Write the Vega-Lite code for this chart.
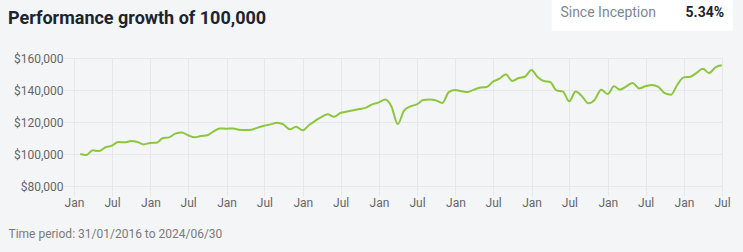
{
  "$schema": "https://vega.github.io/schema/vega-lite/v6.json",
  "autosize": "none",
  "width": 648,
  "height": 128,
  "padding": {"left": 74, "top": 58, "right": 21, "bottom": 66},
  "background": "#f4f5f7",
  "config": {
    "view": {"stroke": null},
    "font": "Roboto",
    "axis": {"labelFont": "Roboto", "titleFont": "Roboto"},
    "axisY": {
      "title": null,
      "format": "$,.0f",
      "labelFontSize": 12,
      "labelColor": "#666666",
      "labelPadding": 1,
      "domain": false,
      "grid": true,
      "gridColor": "#e6e7ea",
      "tickColor": "#e6e7ea",
      "tickSize": 10
    }
  },
  "title": {
    "text": "Performance growth of 100,000",
    "anchor": "start",
    "frame": "group",
    "dx": -66,
    "offset": -42,
    "baseline": "alphabetic",
    "font": "Roboto",
    "fontSize": 18,
    "fontWeight": "bold",
    "color": "#1c2430"
  },
  "datasets": {
    "box": [{"label": "Since Inception", "result": "5.34%"}]
  },
  "data": {
    "values": [
      {"date": "2016-01-31", "value": 100000},
      {"date": "2016-02-29", "value": 99400},
      {"date": "2016-03-31", "value": 102300},
      {"date": "2016-04-30", "value": 101900},
      {"date": "2016-05-31", "value": 104200},
      {"date": "2016-06-30", "value": 105200},
      {"date": "2016-07-31", "value": 107500},
      {"date": "2016-08-31", "value": 107300},
      {"date": "2016-09-30", "value": 108100},
      {"date": "2016-10-31", "value": 107500},
      {"date": "2016-11-30", "value": 106000},
      {"date": "2016-12-31", "value": 106900},
      {"date": "2017-01-31", "value": 107100},
      {"date": "2017-02-28", "value": 109800},
      {"date": "2017-03-31", "value": 110400},
      {"date": "2017-04-30", "value": 112700},
      {"date": "2017-05-31", "value": 113500},
      {"date": "2017-06-30", "value": 111700},
      {"date": "2017-07-31", "value": 110400},
      {"date": "2017-08-31", "value": 111200},
      {"date": "2017-09-30", "value": 111700},
      {"date": "2017-10-31", "value": 114200},
      {"date": "2017-11-30", "value": 116000},
      {"date": "2017-12-31", "value": 115800},
      {"date": "2018-01-31", "value": 116000},
      {"date": "2018-02-28", "value": 115200},
      {"date": "2018-03-31", "value": 115000},
      {"date": "2018-04-30", "value": 115200},
      {"date": "2018-05-31", "value": 116500},
      {"date": "2018-06-30", "value": 117700},
      {"date": "2018-07-31", "value": 118500},
      {"date": "2018-08-31", "value": 119600},
      {"date": "2018-09-30", "value": 118500},
      {"date": "2018-10-31", "value": 115400},
      {"date": "2018-11-30", "value": 117100},
      {"date": "2018-12-31", "value": 114800},
      {"date": "2019-01-31", "value": 118100},
      {"date": "2019-02-28", "value": 120600},
      {"date": "2019-03-31", "value": 123100},
      {"date": "2019-04-30", "value": 124800},
      {"date": "2019-05-31", "value": 123300},
      {"date": "2019-06-30", "value": 125600},
      {"date": "2019-07-31", "value": 126500},
      {"date": "2019-08-31", "value": 127300},
      {"date": "2019-09-30", "value": 128100},
      {"date": "2019-10-31", "value": 129000},
      {"date": "2019-11-30", "value": 131000},
      {"date": "2019-12-31", "value": 132300},
      {"date": "2020-01-31", "value": 134000},
      {"date": "2020-02-29", "value": 129800},
      {"date": "2020-03-31", "value": 118700},
      {"date": "2020-04-30", "value": 127100},
      {"date": "2020-05-31", "value": 129800},
      {"date": "2020-06-30", "value": 131000},
      {"date": "2020-07-31", "value": 133700},
      {"date": "2020-08-31", "value": 134000},
      {"date": "2020-09-30", "value": 133500},
      {"date": "2020-10-31", "value": 131900},
      {"date": "2020-11-30", "value": 138700},
      {"date": "2020-12-31", "value": 140000},
      {"date": "2021-01-31", "value": 139200},
      {"date": "2021-02-28", "value": 138700},
      {"date": "2021-03-31", "value": 140200},
      {"date": "2021-04-30", "value": 141500},
      {"date": "2021-05-31", "value": 141900},
      {"date": "2021-06-30", "value": 145200},
      {"date": "2021-07-31", "value": 147100},
      {"date": "2021-08-31", "value": 149800},
      {"date": "2021-09-30", "value": 145600},
      {"date": "2021-10-31", "value": 147500},
      {"date": "2021-11-30", "value": 148300},
      {"date": "2021-12-31", "value": 152500},
      {"date": "2022-01-31", "value": 147900},
      {"date": "2022-02-28", "value": 145600},
      {"date": "2022-03-31", "value": 145000},
      {"date": "2022-04-30", "value": 139800},
      {"date": "2022-05-31", "value": 139000},
      {"date": "2022-06-30", "value": 132900},
      {"date": "2022-07-31", "value": 139000},
      {"date": "2022-08-31", "value": 136000},
      {"date": "2022-09-30", "value": 131700},
      {"date": "2022-10-31", "value": 134000},
      {"date": "2022-11-30", "value": 140200},
      {"date": "2022-12-31", "value": 137500},
      {"date": "2023-01-31", "value": 142300},
      {"date": "2023-02-28", "value": 140200},
      {"date": "2023-03-31", "value": 142300},
      {"date": "2023-04-30", "value": 144400},
      {"date": "2023-05-31", "value": 141000},
      {"date": "2023-06-30", "value": 142300},
      {"date": "2023-07-31", "value": 143100},
      {"date": "2023-08-31", "value": 141900},
      {"date": "2023-09-30", "value": 138100},
      {"date": "2023-10-31", "value": 137100},
      {"date": "2023-11-30", "value": 143300},
      {"date": "2023-12-31", "value": 147900},
      {"date": "2024-01-31", "value": 148300},
      {"date": "2024-02-29", "value": 150600},
      {"date": "2024-03-31", "value": 153300},
      {"date": "2024-04-30", "value": 150600},
      {"date": "2024-05-31", "value": 154200},
      {"date": "2024-06-30", "value": 155400}
    ]
  },
  "layer": [
    {
      "mark": {"type": "line", "interpolate": "monotone", "color": "#8cc63f", "strokeWidth": 2},
      "encoding": {
        "x": {
          "field": "date",
          "type": "temporal",
          "scale": {"type": "utc", "domain": [{"year": 2016, "month": 1, "date": 1, "utc": true}, {"year": 2024, "month": 7, "date": 1, "utc": true}], "nice": false},
          "axis": {
            "title": "Time period: 31/01/2016 to 2024/06/30",
            "titleX": -66,
            "titleY": 51,
            "titleAlign": "left",
            "titleBaseline": "alphabetic",
            "titleFontSize": 12,
            "titleFontWeight": "normal",
            "titleColor": "#7a7a7a",
            "tickCount": {"interval": "month", "step": 6},
            "format": "%b",
            "labelFontSize": 12,
            "labelColor": "#666666",
            "labelPadding": 1,
            "labelAngle": 0,
            "labelFlush": false,
            "labelOverlap": false,
            "domain": false,
            "grid": true,
            "gridColor": "#e6e7ea",
            "tickColor": "#e6e7ea",
            "tickSize": 10
          }
        },
        "y": {
          "field": "value",
          "type": "quantitative",
          "scale": {"domain": [80000, 160000], "nice": false, "zero": false},
          "axis": {"values": [80000, 100000, 120000, 140000, 160000], "tickCount": 5, "labelOverlap": false}
        }
      }
    },
    {
      "data": {"name": "box"},
      "mark": {"type": "rect", "color": "#ffffff", "clip": false},
      "encoding": {
        "x": {"datum": {"year": 2022, "month": 4, "date": 7, "utc": true}, "type": "temporal"},
        "x2": {"datum": {"year": 2024, "month": 8, "date": 22, "utc": true}},
        "y": {"datum": 196400, "type": "quantitative", "axis": {"values": [80000, 100000, 120000, 140000, 160000], "tickCount": 5, "labelOverlap": false}},
        "y2": {"datum": 177000}
      }
    },
    {
      "data": {"name": "box"},
      "mark": {"type": "text", "align": "left", "baseline": "alphabetic", "fontSize": 14, "color": "#7d8794", "font": "Roboto", "clip": false},
      "encoding": {
        "x": {"datum": {"year": 2022, "month": 5, "date": 19, "utc": true}, "type": "temporal"},
        "y": {"datum": 185500, "type": "quantitative", "axis": {"values": [80000, 100000, 120000, 140000, 160000], "tickCount": 5, "labelOverlap": false}},
        "text": {"field": "label"}
      }
    },
    {
      "data": {"name": "box"},
      "mark": {"type": "text", "align": "right", "baseline": "alphabetic", "fontSize": 14, "fontWeight": "bold", "color": "#1c2430", "font": "Roboto", "clip": false},
      "encoding": {
        "x": {"datum": {"year": 2024, "month": 7, "date": 11, "utc": true}, "type": "temporal"},
        "y": {"datum": 185500, "type": "quantitative", "axis": {"values": [80000, 100000, 120000, 140000, 160000], "tickCount": 5, "labelOverlap": false}},
        "text": {"field": "result"}
      }
    }
  ]
}
